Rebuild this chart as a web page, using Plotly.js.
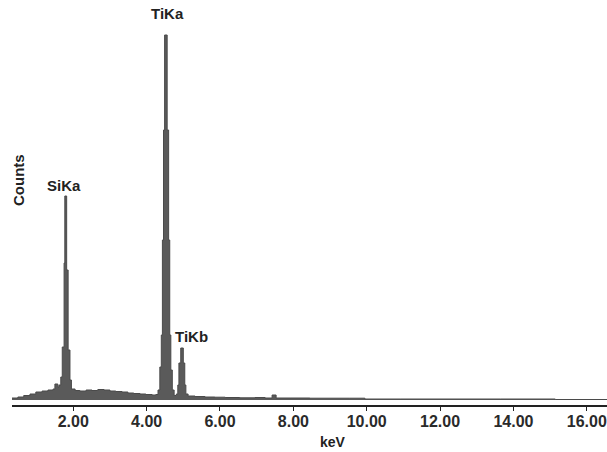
<!DOCTYPE html>
<html>
<head>
<meta charset="utf-8">
<script src="https://cdn.plot.ly/plotly-3.0.1.min.js"></script>
<style>
html,body{margin:0;padding:0;background:#fff;}
#chart{width:607px;height:452px;}
</style>
</head>
<body>
<div id="chart"></div>
<script>
// Energy channels (keV) and counts
const energyKeV = [
  0.33, 0.49, 0.65, 0.82, 0.98, 1.15, 1.31, 1.45, 1.50, 1.58,
  1.61, 1.66, 1.70, 1.75, 1.77, 1.82, 1.86, 1.91, 1.95,
  2.05, 2.18, 2.35, 2.51, 2.67, 2.84, 3.00, 3.16, 3.33, 3.49, 3.65, 3.82, 3.98, 4.15, 4.25,
  4.31, 4.36, 4.40, 4.43, 4.46, 4.49, 4.56, 4.60, 4.63, 4.66, 4.70,
  4.75, 4.81, 4.85, 4.88, 4.93, 5.00, 5.04, 5.07, 5.13,
  5.32, 5.59, 5.86, 6.14, 6.54, 6.95, 7.23, 7.42, 7.53, 7.91,
  8.45, 9.00, 9.54, 9.95, 10.91, 12.27, 13.64, 15.14, 16.55
];
const counts = [
  20, 30, 45, 60, 80, 90, 100, 110, 160, 130,
  150, 230, 530, 1370, 2040, 1300, 500, 200, 110,
  95, 90, 100, 95, 105, 100, 90, 85, 80, 70, 65, 60, 55, 50, 55,
  100, 330, 650, 1600, 2700, 3650, 2700, 1600, 650, 300, 100,
  45, 60, 150, 370, 520, 370, 150, 60, 40,
  35, 30, 28, 25, 22, 25, 20, 50, 20, 20,
  18, 18, 18, 10, 10, 10, 10, 5, 5
];
const tickValues = [2, 4, 6, 8, 10, 12, 14, 16];
const tickLabels = ['2.00', '4.00', '6.00', '8.00', '10.00', '12.00', '14.00', '16.00'];
const peakNames = ['SiKa', 'TiKa', 'TiKb'];
const peakLabelX = [1.745, 4.58, 5.21];
const peakLabelY = [2150, 3870, 640];

const fontFam = '"Liberation Sans", Arial, sans-serif';

const trace = {
  x: energyKeV,
  y: counts,
  type: 'scatter',
  mode: 'lines',
  line: {shape: 'hv', color: '#4a4a4a', width: 1},
  fill: 'tozeroy',
  fillcolor: '#5a5a5a',
  hoverinfo: 'skip'
};

const annotations = peakNames.map((n, i) => ({
  x: peakLabelX[i], y: peakLabelY[i], xref: 'x', yref: 'y',
  xanchor: 'center', yanchor: 'middle',
  text: n, showarrow: false,
  font: {family: fontFam, size: 15, color: '#222', weight: 'bold'}
}));
annotations.push({
  x: 0.0101, y: 0.5625, xref: 'paper', yref: 'paper', text: 'Counts',
  xanchor: 'center', yanchor: 'middle',
  textangle: -90, showarrow: false,
  font: {family: fontFam, size: 15, color: '#222', weight: 'bold'}
});
annotations.push({
  x: 0.5395, y: -0.0925, xref: 'paper', yref: 'paper', text: 'keV',
  xanchor: 'center', yanchor: 'middle',
  showarrow: false,
  font: {family: fontFam, size: 14, color: '#222', weight: 'bold'}
});

const layout = {
  width: 607, height: 452,
  margin: {l: 12, r: 0, t: 5, b: 47},
  paper_bgcolor: '#ffffff', plot_bgcolor: '#ffffff',
  showlegend: false,
  xaxis: {
    range: [0.33, 16.55],
    tickvals: tickValues, ticktext: tickLabels,
    ticks: 'outside', ticklen: 4, tickwidth: 1, tickcolor: '#222',
    ticklabelstandoff: -3,
    showline: true, linecolor: '#222', linewidth: 1.5,
    showgrid: false, zeroline: false,
    tickfont: {family: fontFam, size: 16, color: '#2a2a2a', weight: 'bold'}
  },
  yaxis: {
    range: [-50, 3950],
    visible: true, showticklabels: false, ticks: '',
    showline: false, showgrid: false, zeroline: false
  },
  annotations: annotations
};

Plotly.newPlot('chart', [trace], layout, {displayModeBar: false, staticPlot: true});
</script>
</body>
</html>
